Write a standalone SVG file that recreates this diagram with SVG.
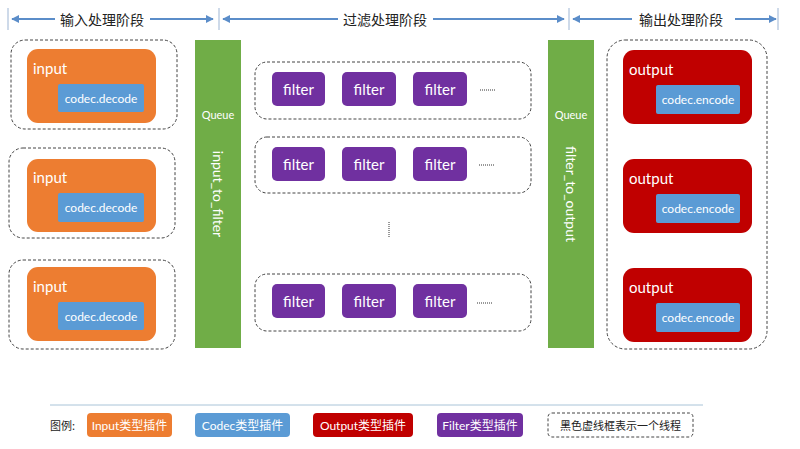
<svg xmlns="http://www.w3.org/2000/svg" width="800" height="449" viewBox="0 0 800 449">
<defs>
<marker id="ah" viewBox="0 0 10 10" refX="9" refY="5" markerWidth="4" markerHeight="4" orient="auto-start-reverse" markerUnits="strokeWidth">
<path d="M0,0 L10,5 L0,10 z" fill="#5B8DC9"/>
</marker>
<style>
.sep{stroke:#9DB5D4;stroke-width:1}
.arr{stroke:#5B8DC9;stroke-width:2;fill:none;marker-end:url(#ah)}
.hdr{font-family:"Noto Sans CJK SC","Liberation Sans",sans-serif;font-size:14px;fill:#222;text-anchor:middle;dominant-baseline:central}
.th{fill:#fff;stroke:#444;stroke-width:1;stroke-dasharray:3 2}
.inp{fill:#ED7D31}
.out{fill:#C00000}
.cod{fill:#5B9BD5}
.flt{fill:#7030A0}
.q{fill:#70AD47}
.lbl{font-family:Lato,"Liberation Sans",sans-serif;font-size:15px;fill:#fff}
.cl{font-family:Lato,"Liberation Sans",sans-serif;font-size:12px;fill:#fff;text-anchor:middle;dominant-baseline:central}
.fl{font-family:Lato,"Liberation Sans",sans-serif;font-size:15px;fill:#fff;text-anchor:middle;dominant-baseline:central}
.ql{font-family:Lato,"Liberation Sans",sans-serif;font-size:11px;fill:#fff;text-anchor:middle;dominant-baseline:central}
.qv{font-family:Lato,"Liberation Sans",sans-serif;font-size:14px;fill:#fff;text-anchor:middle;dominant-baseline:central}
.dots{stroke:#333;stroke-width:1;stroke-dasharray:1 1}
.lg{font-family:Lato,"Noto Sans CJK SC",sans-serif;font-size:12px;fill:#fff;text-anchor:middle;dominant-baseline:central}
.lgk{font-family:"Noto Sans CJK SC",sans-serif;font-size:11px;fill:#222;dominant-baseline:central}
</style>
</defs>

<g id="header">
<line class="sep" x1="8" y1="8" x2="8" y2="30"/>
<line class="sep" x1="219" y1="8" x2="219" y2="30"/>
<line class="sep" x1="569" y1="8" x2="569" y2="30"/>
<line class="sep" x1="778" y1="8" x2="778" y2="30"/>
<text class="hdr" x="102" y="19">输入处理阶段</text>
<text class="hdr" x="385" y="19">过滤处理阶段</text>
<text class="hdr" x="681" y="19">输出处理阶段</text>
</g>

<g id="connectors">
<line class="arr" x1="55" y1="19" x2="12" y2="19"/>
<line class="arr" x1="150" y1="19" x2="213" y2="19"/>
<line class="arr" x1="338" y1="19" x2="223" y2="19"/>
<line class="arr" x1="433" y1="19" x2="564" y2="19"/>
<line class="arr" x1="632" y1="19" x2="573" y2="19"/>
<line class="arr" x1="735" y1="19" x2="776" y2="19"/>
</g>

<g id="input-thread-1">
<rect class="th" x="11" y="40" width="166" height="89" rx="14"/>
<rect class="inp" x="27" y="49" width="129" height="74" rx="11"/>
<text class="lbl" x="33" y="74">input</text>
<rect class="cod" x="58" y="84" width="86" height="28" rx="2"/>
<text class="cl" x="101" y="98">codec.decode</text>
</g>
<g id="input-thread-2">
<rect class="th" x="9" y="148" width="166" height="90" rx="14"/>
<rect class="inp" x="27" y="159" width="129" height="73" rx="11"/>
<text class="lbl" x="33" y="183">input</text>
<rect class="cod" x="58" y="193" width="86" height="29" rx="2"/>
<text class="cl" x="101" y="207.5">codec.decode</text>
</g>
<g id="input-thread-3">
<rect class="th" x="9" y="260" width="166" height="89" rx="14"/>
<rect class="inp" x="27" y="267" width="129" height="74" rx="11"/>
<text class="lbl" x="33" y="292">input</text>
<rect class="cod" x="58" y="302" width="86" height="28" rx="2"/>
<text class="cl" x="101" y="316">codec.decode</text>
</g>

<g id="queue-input-to-filter">
<rect class="q" x="195" y="40" width="46" height="308"/>
<text class="ql" x="218" y="114">Queue</text>
<text class="qv" transform="translate(218,194) rotate(90)">input_to_filter</text>
</g>

<g id="filter-thread-1">
<rect class="th" x="255" y="62" width="276" height="57" rx="12"/>
<rect class="flt" x="272" y="72" width="53" height="34" rx="5"/>
<text class="fl" x="298.5" y="89">filter</text>
<rect class="flt" x="342" y="72" width="54" height="34" rx="5"/>
<text class="fl" x="369" y="89">filter</text>
<rect class="flt" x="413" y="72" width="54" height="34" rx="5"/>
<text class="fl" x="440" y="89">filter</text>
<line class="dots" x1="480" y1="90" x2="495" y2="90"/>
</g>
<g id="filter-thread-2">
<rect class="th" x="255" y="137" width="276" height="56" rx="12"/>
<rect class="flt" x="272" y="147" width="53" height="34" rx="5"/>
<text class="fl" x="298.5" y="164">filter</text>
<rect class="flt" x="342" y="147" width="54" height="34" rx="5"/>
<text class="fl" x="369" y="164">filter</text>
<rect class="flt" x="413" y="147" width="54" height="34" rx="5"/>
<text class="fl" x="440" y="164">filter</text>
<line class="dots" x1="479" y1="165" x2="494" y2="165"/>
</g>
<g id="filter-ellipsis">
<line class="dots" x1="389" y1="222" x2="389" y2="238"/>
</g>
<g id="filter-thread-3">
<rect class="th" x="255" y="274" width="276" height="57" rx="12"/>
<rect class="flt" x="272" y="284" width="53" height="34" rx="5"/>
<text class="fl" x="298.5" y="301">filter</text>
<rect class="flt" x="342" y="284" width="54" height="34" rx="5"/>
<text class="fl" x="369" y="301">filter</text>
<rect class="flt" x="413" y="284" width="54" height="34" rx="5"/>
<text class="fl" x="440" y="301">filter</text>
<line class="dots" x1="477" y1="303" x2="492" y2="303"/>
</g>

<g id="queue-filter-to-output">
<rect class="q" x="548" y="40" width="46" height="308"/>
<text class="ql" x="571" y="114">Queue</text>
<text class="qv" transform="translate(571,194) rotate(90)">filter_to_output</text>
</g>

<g id="output-thread">
<rect class="th" x="607" y="40" width="160" height="309" rx="18"/>
</g>
<g id="output-1">
<rect class="out" x="623" y="50" width="129" height="74" rx="11"/>
<text class="lbl" x="629" y="75">output</text>
<rect class="cod" x="656" y="85" width="84" height="29" rx="2"/>
<text class="cl" x="698" y="99.5">codec.encode</text>
</g>
<g id="output-2">
<rect class="out" x="623" y="159" width="129" height="74" rx="11"/>
<text class="lbl" x="629" y="184">output</text>
<rect class="cod" x="656" y="194" width="84" height="29" rx="2"/>
<text class="cl" x="698" y="208.5">codec.encode</text>
</g>
<g id="output-3">
<rect class="out" x="623" y="268" width="129" height="74" rx="11"/>
<text class="lbl" x="629" y="293">output</text>
<rect class="cod" x="656" y="303" width="84" height="29" rx="2"/>
<text class="cl" x="698" y="317.5">codec.encode</text>
</g>

<g id="legend">
<line x1="50" y1="405" x2="703" y2="405" stroke="#A9C4D8" stroke-width="1"/>
<text class="lgk" x="50" y="425">图例:</text>
<rect class="inp" x="87" y="413" width="85" height="24" rx="4"/>
<text class="lg" x="129.5" y="425">Input类型插件</text>
<rect class="cod" x="195" y="413" width="95" height="24" rx="4"/>
<text class="lg" x="242.5" y="425">Codec类型插件</text>
<rect class="out" x="313" y="413" width="100" height="24" rx="4"/>
<text class="lg" x="363" y="425">Output类型插件</text>
<rect class="flt" x="437" y="413" width="86" height="24" rx="4"/>
<text class="lg" x="480" y="425">Filter类型插件</text>
<rect class="th" x="548" y="413" width="145" height="24" rx="4"/>
<text class="lgk" x="620.5" y="425" text-anchor="middle" font-size="12">黑色虚线框表示一个线程</text>
</g>
</svg>
